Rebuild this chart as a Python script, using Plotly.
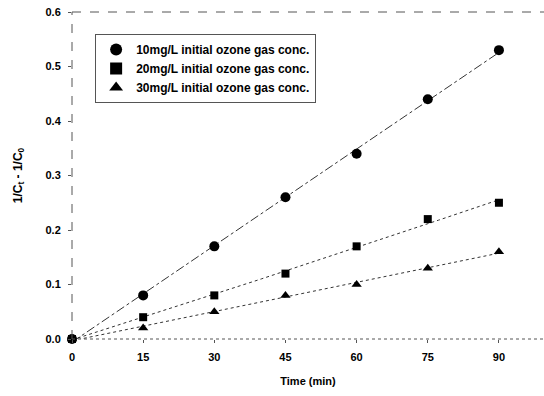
import numpy as np
import plotly.graph_objects as go

time_min = [0, 15, 30, 45, 60, 75, 90]
s10 = [0, 0.08, 0.17, 0.26, 0.34, 0.44, 0.53]
s20 = [0, 0.04, 0.08, 0.12, 0.17, 0.22, 0.25]
s30 = [0, 0.02, 0.05, 0.08, 0.10, 0.13, 0.16]
names = ["10mg/L initial ozone gas conc.",
         "20mg/L initial ozone gas conc.",
         "30mg/L initial ozone gas conc."]
x_ticks = [0, 15, 30, 45, 60, 75, 90]
y_ticks = [0.0, 0.1, 0.2, 0.3, 0.4, 0.5, 0.6]
y_tick_text = ["0.0", "0.1", "0.2", "0.3", "0.4", "0.5", "0.6"]

FAM = "Liberation Sans, Arial"
fig = go.Figure()

xs = np.linspace(0, 90, 100)
fits = [
    (s10, 1, "dashdot"),
    (s20, 2, "dot"),
    (s30, 1, "dot"),
]
for ys, deg, dash in fits:
    c = np.polyfit(time_min, ys, deg)
    fig.add_trace(go.Scatter(x=xs, y=np.polyval(c, xs), mode="lines",
                             line=dict(color="#333", width=1, dash=dash),
                             showlegend=False, hoverinfo="skip"))

symbols = ["circle", "square", "triangle-up"]
sizes = [10, 8, 9]
for ys, nm, sym, sz in zip([s10, s20, s30], names, symbols, sizes):
    fig.add_trace(go.Scatter(x=time_min, y=ys, mode="markers", name=nm,
                             marker=dict(symbol=sym, size=sz, color="black"),
                             cliponaxis=False))

tickfont = dict(family=FAM, size=11, color="black", weight="bold")
fig.update_layout(
    width=544, height=396,
    margin=dict(l=72, r=0, t=12, b=57),
    paper_bgcolor="white", plot_bgcolor="white",
    font=dict(family=FAM, size=10, color="black"),
    legend=dict(x=0.049, y=0.933, xanchor="left", yanchor="top",
                bgcolor="rgba(0,0,0,0)", bordercolor="#555", borderwidth=1,
                font=dict(family=FAM, size=12, color="black", weight="bold"),
                tracegroupgap=0, itemsizing="constant"),
    xaxis=dict(range=[0, 99.5], tickvals=x_ticks, ticks="outside", ticklen=3,
               tickcolor="#555", tickfont=tickfont, automargin=False, ticklabelstandoff=5,
               showline=False, showgrid=False, zeroline=False,
               title=dict(text="Time (min)", font=dict(family=FAM, size=11, weight="bold"), standoff=15)),
    yaxis=dict(range=[0, 0.6], tickvals=y_ticks, ticktext=y_tick_text, ticks="outside", ticklen=3,
               tickcolor="#555", tickfont=tickfont, automargin=False, ticklabelstandoff=5,
               showline=False, showgrid=False, zeroline=False,
               title=dict(text="1/C<sub>t</sub> - 1/C<sub>0</sub>", font=dict(family=FAM, size=12, weight="bold"), standoff=20)),
)
fig.add_shape(type="line", xref="paper", yref="paper", x0=0, x1=1, y0=1, y1=1,
              line=dict(color="#555", width=1, dash="dash"))
fig.add_shape(type="line", xref="paper", yref="paper", x0=0, x1=0, y0=0, y1=1,
              line=dict(color="#555", width=1, dash="dash"))
fig.add_shape(type="line", xref="paper", yref="paper", x0=0, x1=1, y0=0, y1=0,
              line=dict(color="#555", width=1, dash="dot"))

fig.write_html("out.html", config={"displayModeBar": False},
               post_script="document.body.style.margin='0';")
